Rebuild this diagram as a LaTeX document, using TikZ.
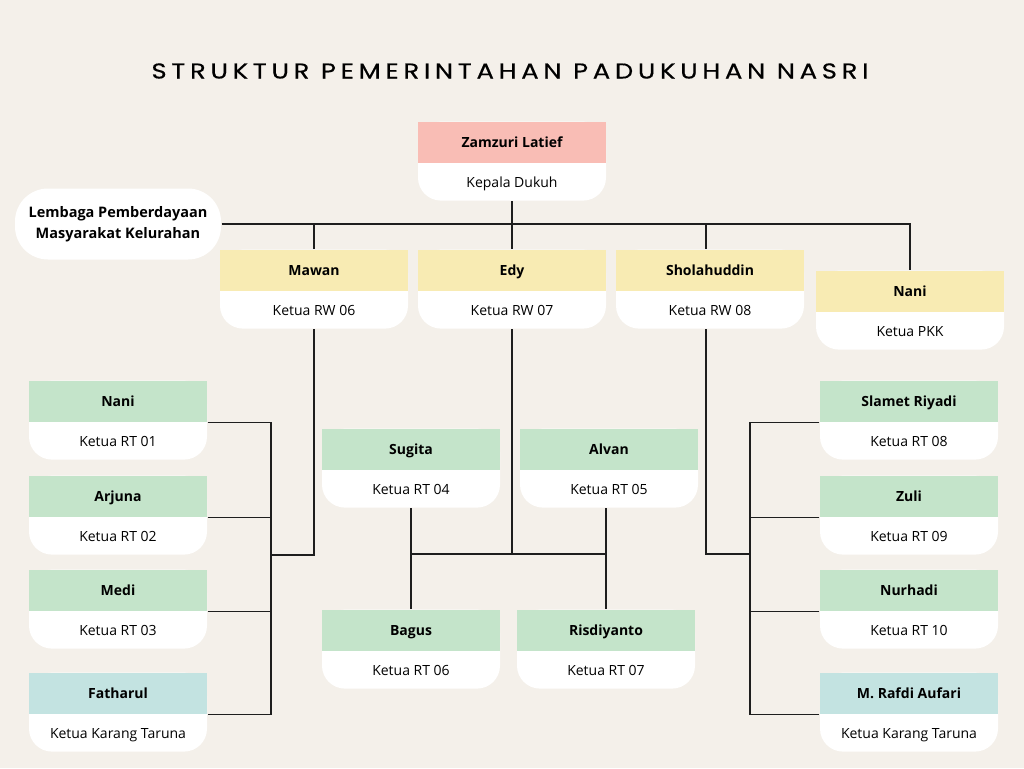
\documentclass[tikz,border=0pt]{standalone}
\usepackage{fontspec}
\setmainfont{Open Sans}
\newfontfamily\judulfont[LetterSpace=22, FakeStretch=1.2, FakeBold=0.5]{Poppins}
\usetikzlibrary{positioning}
\definecolor{latar}{HTML}{F4F0EA}
\definecolor{merah}{HTML}{F9BDB5}
\definecolor{kuning}{HTML}{F8EBB3}
\definecolor{hijau}{HTML}{C4E4CA}
\definecolor{toska}{HTML}{C3E3E1}
\definecolor{garis}{HTML}{1E1E1E}

\begin{document}
\begin{tikzpicture}[x=1pt, y=-1pt, line width=1.2pt]
		\tikzstyle{body}=[anchor=north, fill=white, rounded corners=23pt, inner sep=0pt, minimum width=188pt, text height=66pt, text depth=13pt, font=\fontsize{14}{16}\selectfont]
		\tikzstyle{head}=[anchor=north, inner sep=0pt, minimum width=188pt, minimum height=41.5pt, text height=12pt, text depth=1pt, font=\fontsize{14}{16}\selectfont\bfseries]
		\tikzstyle{kecil}=[minimum width=178pt]
		\tikzstyle{hub}=[draw=garis]
		
		% Latar
		\fill[latar] (0,0) rectangle (1024,768);
		\useasboundingbox (0,0) rectangle (1024,768);
		
		% Judul
		\node[font=\judulfont\fontsize{21.5}{24}\selectfont] (judul) at (510,71) {STRUKTUR PEMERINTAHAN PADUKUHAN NASRI};
		
		% Kepala Dukuh dan LPM
		\node[body] (zam) at (512,121) {Kepala Dukuh};
		\node[head, fill=merah] (zamH) at (zam.north) {Zamzuri Latief};
		\node[fill=white, rounded corners=33pt, minimum width=206pt, minimum height=71pt, align=center, font=\fontsize{14.5}{21}\selectfont\bfseries] (lpm) at (118,224) {Lembaga Pemberdayaan\\Masyarakat Kelurahan};
		
		% Ketua RW dan PKK
		\node[body] (mawan) at (314,249) {Ketua RW 06};
		\node[head, fill=kuning] (mawanH) at (mawan.north) {Mawan};
		\node[body] (edy) at (512,249) {Ketua RW 07};
		\node[head, fill=kuning] (edyH) at (edy.north) {Edy};
		\node[body] (sholah) at (710,249) {Ketua RW 08};
		\node[head, fill=kuning] (sholahH) at (sholah.north) {Sholahuddin};
		\node[body] (pkk) at (910,270) {Ketua PKK};
		\node[head, fill=kuning] (pkkH) at (pkk.north) {Nani};
		
		% RT kiri (RW 06)
		\node[body, kecil] (nani) at (118,380) {Ketua RT 01};
		\node[head, kecil, fill=hijau] (naniH) at (nani.north) {Nani};
		\node[body, kecil] (arjuna) at (118,475) {Ketua RT 02};
		\node[head, kecil, fill=hijau] (arjunaH) at (arjuna.north) {Arjuna};
		\node[body, kecil] (medi) at (118,569) {Ketua RT 03};
		\node[head, kecil, fill=hijau] (mediH) at (medi.north) {Medi};
		\node[body, kecil] (fatharul) at (118,672) {Ketua Karang Taruna};
		\node[head, kecil, fill=toska] (fatharulH) at (fatharul.north) {Fatharul};
		
		% RT tengah (RW 07)
		\node[body, kecil] (sugita) at (411,428) {Ketua RT 04};
		\node[head, kecil, fill=hijau] (sugitaH) at (sugita.north) {Sugita};
		\node[body, kecil] (alvan) at (609,428) {Ketua RT 05};
		\node[head, kecil, fill=hijau] (alvanH) at (alvan.north) {Alvan};
		\node[body, kecil] (bagus) at (411,609) {Ketua RT 06};
		\node[head, kecil, fill=hijau] (bagusH) at (bagus.north) {Bagus};
		\node[body, kecil] (risdi) at (606,609) {Ketua RT 07};
		\node[head, kecil, fill=hijau] (risdiH) at (risdi.north) {Risdiyanto};
		
		% RT kanan (RW 08)
		\node[body, kecil] (slamet) at (909,380) {Ketua RT 08};
		\node[head, kecil, fill=hijau] (slametH) at (slamet.north) {Slamet Riyadi};
		\node[body, kecil] (zuli) at (909,475) {Ketua RT 09};
		\node[head, kecil, fill=hijau] (zuliH) at (zuli.north) {Zuli};
		\node[body, kecil] (nurhadi) at (909,569) {Ketua RT 10};
		\node[head, kecil, fill=hijau] (nurhadiH) at (nurhadi.north) {Nurhadi};
		\node[body, kecil] (rafdi) at (909,672) {Ketua Karang Taruna};
		\node[head, kecil, fill=toska] (rafdiH) at (rafdi.north) {M. Rafdi Aufari};
		
		% Titik simpul
		\coordinate (kiri) at (271,555);
		\coordinate (tengah) at (512,554);
		\coordinate (kanan) at (750,554);
		
		% Garis atas
		\draw[hub] (lpm.east) -- (pkkH.north |- lpm.east) -- (pkkH.north);
		\draw[hub] (zam.south) -- (zam.south |- lpm.east);
		\draw[hub] (mawanH.north |- lpm.east) -- (mawanH.north);
		\draw[hub] (edyH.north |- lpm.east) -- (edyH.north);
		\draw[hub] (706,224) -- (sholahH.north -| 706,0);
		
		% RW 06
		\draw[hub] (mawan.south) |- (kiri);
		\draw[hub] (naniH.south east) -| (kiri) |- (fatharulH.south east);
		\draw[hub] (arjunaH.south east) -- (arjunaH.south east -| kiri);
		\draw[hub] (mediH.south east) -- (mediH.south east -| kiri);
		
		% RW 07
		\draw[hub] (edy.south) -- (tengah);
		\draw[hub] (sugita.south |- tengah) -- (risdiH.north |- tengah);
		\draw[hub] (sugita.south) -- (bagusH.north);
		\draw[hub] (alvan.south -| risdiH.north) -- (risdiH.north);
		
		% RW 08
		\draw[hub] (sholah.south -| 706,0) |- (kanan);
		\draw[hub] (slametH.south west) -| (kanan) |- (rafdiH.south west);
		\draw[hub] (zuliH.south west) -- (zuliH.south west -| kanan);
		\draw[hub] (nurhadiH.south west) -- (nurhadiH.south west -| kanan);
		
	\end{tikzpicture}
\end{document}
